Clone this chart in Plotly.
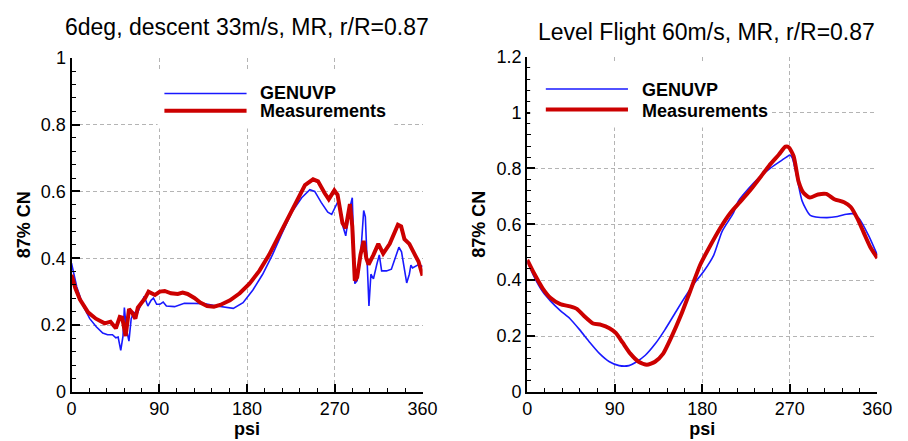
import plotly.graph_objects as go

# ---------------- data ----------------
psi_L_gen = [0, 5.4, 12, 18.7, 25.4, 32, 37, 42, 45.5, 47.8, 50.5, 52.8, 54.2, 56.2, 58.9, 61.2,
             63.9, 67.2, 70.6, 74.6, 78.3, 81.6, 84, 87.3, 90.6, 94, 97.3, 105.7, 115.7, 125.8,
             135.8, 149, 162.5, 165.9, 175.9, 186, 196, 206, 216, 226, 236, 244.4, 249.4, 256,
             262.8, 266.8, 271.1, 273.5, 277.8, 281.2, 285.5, 287.9, 290.5, 292.9, 296.3, 299.6,
             301.3, 303.6, 305, 307, 309.6, 313, 315.6, 318, 323, 328, 333, 335.7, 338.4, 341.4,
             343.7, 346.4, 348, 349.7, 353, 355.8, 360]
cn_L_gen = [0.385, 0.314, 0.257, 0.219, 0.195, 0.176, 0.171, 0.171, 0.162, 0.164, 0.124, 0.167,
            0.252, 0.19, 0.152, 0.219, 0.238, 0.233, 0.257, 0.286, 0.257, 0.274, 0.281, 0.262,
            0.262, 0.269, 0.257, 0.255, 0.265, 0.264, 0.264, 0.257, 0.25, 0.25, 0.267, 0.305,
            0.352, 0.41, 0.476, 0.538, 0.581, 0.605, 0.6, 0.567, 0.538, 0.531, 0.557, 0.571, 0.5,
            0.467, 0.552, 0.581, 0.324, 0.333, 0.4, 0.543, 0.524, 0.352, 0.257, 0.352, 0.338,
            0.381, 0.41, 0.362, 0.362, 0.367, 0.41, 0.433, 0.419, 0.362, 0.326, 0.352, 0.379,
            0.371, 0.376, 0.381, 0.375]

psi_L_meas = [0, 4, 8.7, 17, 25, 34, 40, 45.5, 49.5, 52, 55.5, 59, 62, 65.5, 68, 72, 75.6, 79,
              81.6, 85.6, 90.6, 95.6, 102, 109, 114, 119, 126, 132, 139, 146, 152.5, 162.5,
              172.5, 182.5, 192.6, 202.6, 212.6, 222.7, 232.7, 239.4, 247.7, 252.8, 259.5,
              263.8, 269.5, 272.8, 277.8, 281.2, 285.5, 287.9, 290.5, 292.9, 296.3, 299.6,
              302.3, 304.6, 309.6, 314.6, 319.6, 326.3, 334.7, 338, 341.4, 346.4, 353.1, 355.8, 360]
cn_L_meas = [0.35, 0.31, 0.276, 0.238, 0.219, 0.205, 0.21, 0.19, 0.224, 0.222, 0.167, 0.248,
             0.238, 0.219, 0.252, 0.267, 0.281, 0.3, 0.295, 0.29, 0.3, 0.302, 0.295, 0.293,
             0.297, 0.293, 0.281, 0.267, 0.257, 0.255, 0.26, 0.274, 0.295, 0.324, 0.362, 0.41,
             0.467, 0.524, 0.581, 0.619, 0.636, 0.63, 0.595, 0.576, 0.603, 0.59, 0.505, 0.49,
             0.562, 0.495, 0.333, 0.343, 0.41, 0.452, 0.4, 0.381, 0.41, 0.443, 0.414, 0.443,
             0.5, 0.495, 0.457, 0.443, 0.405, 0.39, 0.348]

psi_R_gen = [0, 7.4, 15.8, 24, 34, 44, 54, 64.4, 74.4, 84.5, 94.5, 104.6, 111.3, 121.4, 131.4,
             141.5, 151.5, 161.6, 171.6, 181.7, 191.8, 200.4, 211.9, 217.2, 234, 250.7, 262,
             267.5, 270, 272.5, 277.6, 282.6, 291, 307.7, 319, 328, 334.6, 341.2, 351.3, 360]
cn_R_gen = [0.468, 0.41, 0.359, 0.325, 0.291, 0.262, 0.222, 0.177, 0.137, 0.108, 0.094, 0.094,
            0.105, 0.131, 0.171, 0.222, 0.279, 0.336, 0.388, 0.433, 0.49, 0.575, 0.64, 0.684,
            0.752, 0.803, 0.83, 0.843, 0.848, 0.838, 0.763, 0.684, 0.632, 0.624, 0.628, 0.636,
            0.638, 0.621, 0.558, 0.49]

psi_R_meas = [0, 7.4, 15.8, 24, 34, 44, 51, 57.7, 67.7, 76, 84.5, 91, 98, 106, 114.6, 123, 131.4,
              139.8, 148, 158, 168, 178, 188.4, 198.5, 208.5, 218.6, 228.6, 238.7, 248.7, 258.8,
              265.5, 268.9, 273.9, 279, 284, 290.6, 299, 307.4, 315.8, 325.8, 332.6, 339.3, 346,
              352.7, 360]
cn_R_meas = [0.473, 0.422, 0.371, 0.336, 0.314, 0.306, 0.297, 0.274, 0.245, 0.24, 0.228, 0.211,
             0.177, 0.137, 0.108, 0.097, 0.108, 0.137, 0.194, 0.274, 0.365, 0.456, 0.525, 0.587,
             0.639, 0.679, 0.719, 0.764, 0.81, 0.85, 0.878, 0.876, 0.844, 0.753, 0.713, 0.696,
             0.707, 0.709, 0.69, 0.679, 0.662, 0.622, 0.57, 0.519, 0.479]

x_ticks = [0, 90, 180, 270, 360]
series_names = ["GENUVP", "Measurements"]
titles = ["6deg, descent 33m/s, MR, r/R=0.87", "Level Flight 60m/s, MR, r/R=0.87"]
x_title = "psi"
y_title = "87% CN"

# ---------------- style ----------------
W, H = 908, 441
BLUE = "rgb(25,25,255)"
RED = "rgb(204,0,0)"
FONT = "Liberation Sans, Arial, sans-serif"


def px(x):
    return x / W


def py(y):
    return 1 - y / H


fig = go.Figure()
fig.add_trace(go.Scatter(x=psi_L_gen, y=cn_L_gen, mode="lines", name=series_names[0],
                         line=dict(color=BLUE, width=1.6), xaxis="x", yaxis="y", showlegend=False))
fig.add_trace(go.Scatter(x=psi_L_meas, y=cn_L_meas, mode="lines", name=series_names[1],
                         line=dict(color=RED, width=4), xaxis="x", yaxis="y", showlegend=False))
fig.add_trace(go.Scatter(x=psi_R_gen, y=cn_R_gen, mode="lines", name=series_names[0],
                         line=dict(color=BLUE, width=1.6, shape="spline", smoothing=0.6),
                         xaxis="x2", yaxis="y2", showlegend=False))
fig.add_trace(go.Scatter(x=psi_R_meas, y=cn_R_meas, mode="lines", name=series_names[1],
                         line=dict(color=RED, width=4, shape="spline", smoothing=0.6),
                         xaxis="x2", yaxis="y2", showlegend=False))

common = dict(showline=True, linecolor="black", linewidth=2, ticks="inside", ticklen=8,
              tickwidth=2, tickcolor="black", showgrid=True, gridcolor="#b4b4b4",
              griddash="4px,3px", gridwidth=1, zeroline=False,
              tickfont=dict(family=FONT, size=18, color="black"))
title_font = dict(family=FONT, size=18, color="black", weight="bold")


def xax(domain, anchor):
    return dict(common, domain=domain, anchor=anchor, range=[0, 360], tickvals=x_ticks,
                minor=dict(ticks="inside", ticklen=4, tickwidth=1, tickcolor="black",
                           dtick=18, tick0=0, showgrid=False),
                title=dict(text=x_title, font=title_font, standoff=0))


def yax(domain, anchor, rng):
    return dict(common, domain=domain, anchor=anchor, range=rng, dtick=0.2, tick0=0,
                minor=dict(ticks="inside", ticklen=4, tickwidth=1, tickcolor="black",
                           dtick=0.04, tick0=0, showgrid=False),
                title=dict(text=y_title, font=title_font, standoff=6))


fig.update_layout(
    width=W, height=H, margin=dict(l=0, r=0, t=0, b=0),
    plot_bgcolor="white", paper_bgcolor="white",
    font=dict(family=FONT, size=18, color="black"),
    xaxis=xax([px(68), px(427)], "y"),
    yaxis=yax([py(400), py(50)], "x", [0, 1]),
    xaxis2=xax([px(534), px(892)], "y2"),
    yaxis2=yax([py(400), py(49)], "x2", [0, 1.2]),
)

shapes = []
annotations = []
# legend boxes (white, hide the grid behind the legend)
shapes.append(dict(type="rect", xref="paper", yref="paper",
                   x0=px(156), x1=px(398), y0=py(124), y1=py(65),
                   fillcolor="white", line=dict(width=0), layer="above"))
shapes.append(dict(type="rect", xref="paper", yref="paper",
                   x0=px(537), x1=px(783), y0=py(123), y1=py(55),
                   fillcolor="white", line=dict(width=0), layer="above"))

legend_specs = [
    # x0, x1, y_blue, y_red, text_x, y_text_blue, y_text_red
    (163, 247, 87.5, 105.5, 260, 87.1, 105.5),
    (553, 637, 82.7, 104.3, 650, 83.6, 105.3),
]
for (lx0, lx1, yb, yr, tx, tyb, tyr) in legend_specs:
    for name, yy, ty, col, wd in [(series_names[0], yb, tyb, BLUE, 1.6),
                                  (series_names[1], yr, tyr, RED, 4)]:
        shapes.append(dict(type="line", xref="paper", yref="paper", x0=px(lx0), x1=px(lx1),
                           y0=py(yy), y1=py(yy), line=dict(color=col, width=wd), layer="above"))
        annotations.append(dict(text=name, xref="paper", yref="paper", x=px(tx), y=py(ty),
                                xanchor="left", yanchor="middle", showarrow=False, borderpad=0,
                                font=dict(family=FONT, size=18, color="black", weight="bold")))

annotations.append(dict(text=titles[0], xref="paper", yref="paper", x=px(247.5), y=py(18),
                        xanchor="center", yanchor="middle", showarrow=False,
                        font=dict(family=FONT, size=23, color="black")))
annotations.append(dict(text=titles[1], xref="paper", yref="paper", x=px(717), y=py(22.8),
                        xanchor="center", yanchor="middle", showarrow=False,
                        font=dict(family=FONT, size=23, color="black")))

fig.update_layout(shapes=shapes, annotations=annotations)
fig.write_html("out.html", config={"displayModeBar": False},
               post_script="document.body.style.margin='0';document.body.style.padding='0';")
